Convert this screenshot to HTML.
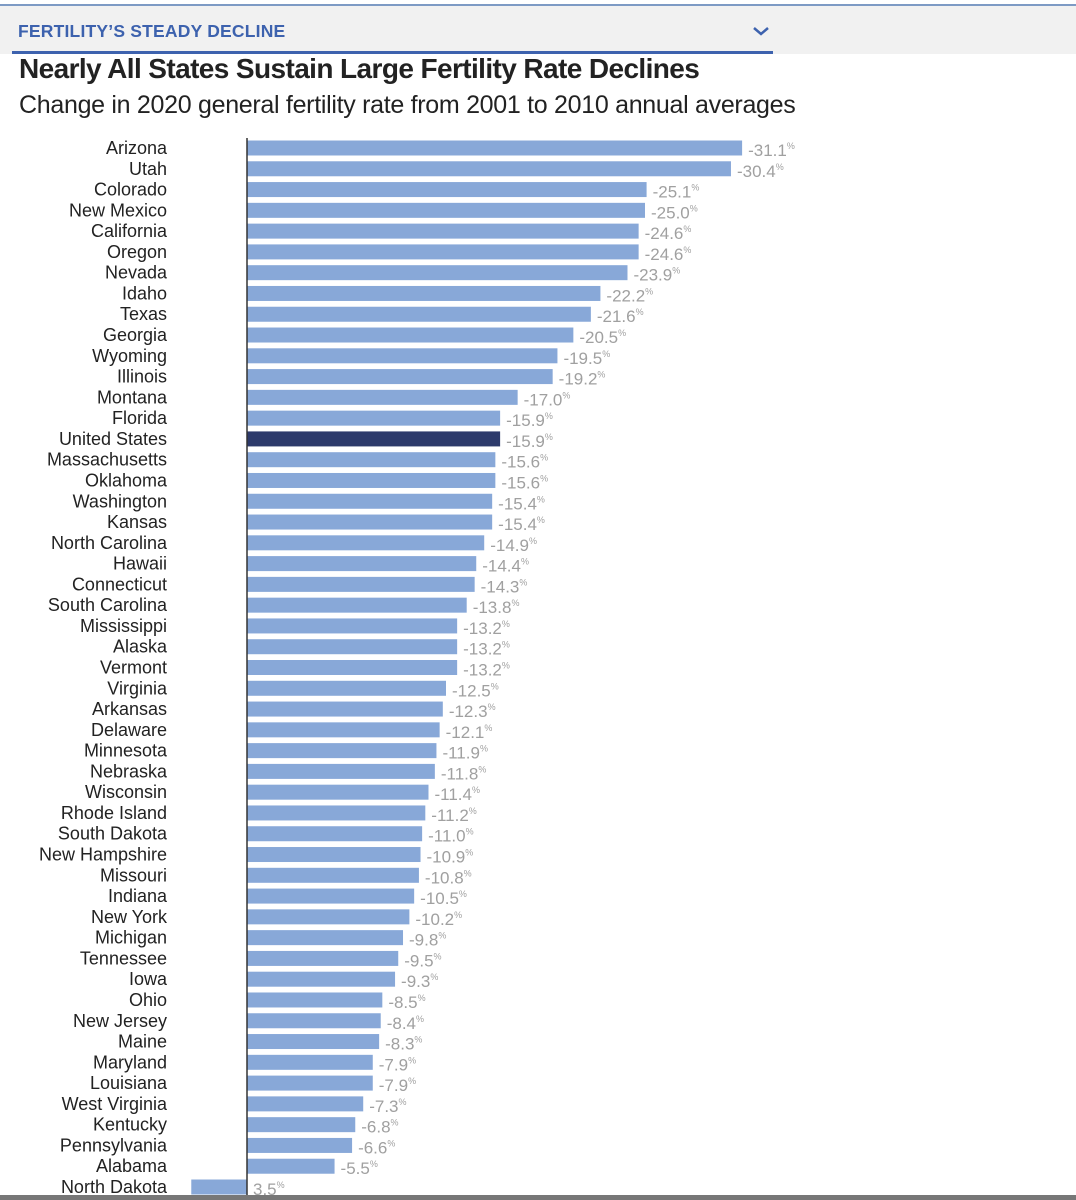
<!DOCTYPE html>
<html><head><meta charset="utf-8"><style>
body{margin:0;width:1076px;height:1200px;background:#fff;overflow:hidden;font-family:"Liberation Sans",sans-serif;position:relative}
#hdr{position:absolute;left:0;top:4px;width:1076px;height:48px;background:#f1f1f1;border-top:2px solid #7d9ac4}
#hdr-title{position:absolute;left:18px;top:15px;font-size:17.5px;color:#3d62ae;font-weight:bold;letter-spacing:0.2px}
#chev{position:absolute;left:752px;top:20px}
#hdr-line{position:absolute;left:12px;top:51px;width:761px;height:3px;background:#3d62ae}
#title{position:absolute;left:19px;top:53px;font-size:28px;font-weight:bold;color:#222;letter-spacing:-0.6px}
#sub{position:absolute;left:19px;top:91px;font-size:25px;color:#222;letter-spacing:-0.3px}
#foot{position:absolute;left:0;top:1195px;width:1076px;height:5px;background:#777}
</style></head><body>
<div id="hdr"><span id="hdr-title">FERTILITY’S STEADY DECLINE</span><svg id="chev" width="18" height="10"><polyline points="2,2 9,8 16,2" fill="none" stroke="#3d62ae" stroke-width="2.5"/></svg></div>
<div id="hdr-line"></div>
<div id="title">Nearly All States Sustain Large Fertility Rate Declines</div>
<div id="sub">Change in 2020 general fertility rate from 2001 to 2010 annual averages</div>
<svg id="chart" width="1076" height="1200" style="position:absolute;left:0;top:0"></svg>
<div id="foot"></div>
<script>
const states=["Arizona","Utah","Colorado","New Mexico","California","Oregon","Nevada","Idaho","Texas","Georgia","Wyoming","Illinois","Montana","Florida","United States","Massachusetts","Oklahoma","Washington","Kansas","North Carolina","Hawaii","Connecticut","South Carolina","Mississippi","Alaska","Vermont","Virginia","Arkansas","Delaware","Minnesota","Nebraska","Wisconsin","Rhode Island","South Dakota","New Hampshire","Missouri","Indiana","New York","Michigan","Tennessee","Iowa","Ohio","New Jersey","Maine","Maryland","Louisiana","West Virginia","Kentucky","Pennsylvania","Alabama","North Dakota"];
const values=[-31.1,-30.4,-25.1,-25.0,-24.6,-24.6,-23.9,-22.2,-21.6,-20.5,-19.5,-19.2,-17.0,-15.9,-15.9,-15.6,-15.6,-15.4,-15.4,-14.9,-14.4,-14.3,-13.8,-13.2,-13.2,-13.2,-12.5,-12.3,-12.1,-11.9,-11.8,-11.4,-11.2,-11.0,-10.9,-10.8,-10.5,-10.2,-9.8,-9.5,-9.3,-8.5,-8.4,-8.3,-7.9,-7.9,-7.3,-6.8,-6.6,-5.5,3.5];
const NS="http://www.w3.org/2000/svg";
const svg=document.getElementById('chart');
const x0=247, pxPer=15.92;
const xScale=v=>x0-v*pxPer;
const yScale=i=>148+i*20.78;
function mk(t,a){const e=document.createElementNS(NS,t);for(const k in a)e.setAttribute(k,a[k]);svg.appendChild(e);return e;}
states.forEach((s,i)=>{
  const v=values[i],cy=yScale(i),xe=xScale(v);
  const lab=mk('text',{x:167,y:cy+6,'text-anchor':'end','font-size':18,fill:'#222','font-family':'Liberation Sans, sans-serif'});
  lab.textContent=s;
  
  
  const r=mk('rect',{x:Math.min(x0,xe),y:cy-7.5,width:Math.abs(xe-x0),height:15,fill:s==="United States"?'#2d3a6b':'#88a8d8'});
  
  
  const t=mk('text',{x:Math.max(x0,xe)+6,y:cy+8,'font-size':17,fill:'#a0a0a0','font-family':'Liberation Sans, sans-serif'});
  t.textContent=(v<0?'-':'')+Math.abs(v).toFixed(1);
  const ts=document.createElementNS(NS,'tspan');ts.setAttribute('font-size','9');ts.setAttribute('dy','-7');ts.textContent='%';t.appendChild(ts);
  
  
});
const ax=mk('line',{x1:x0,y1:138,x2:x0,y2:1196,stroke:'#333','stroke-width':1.5});


</script>
</body></html>
